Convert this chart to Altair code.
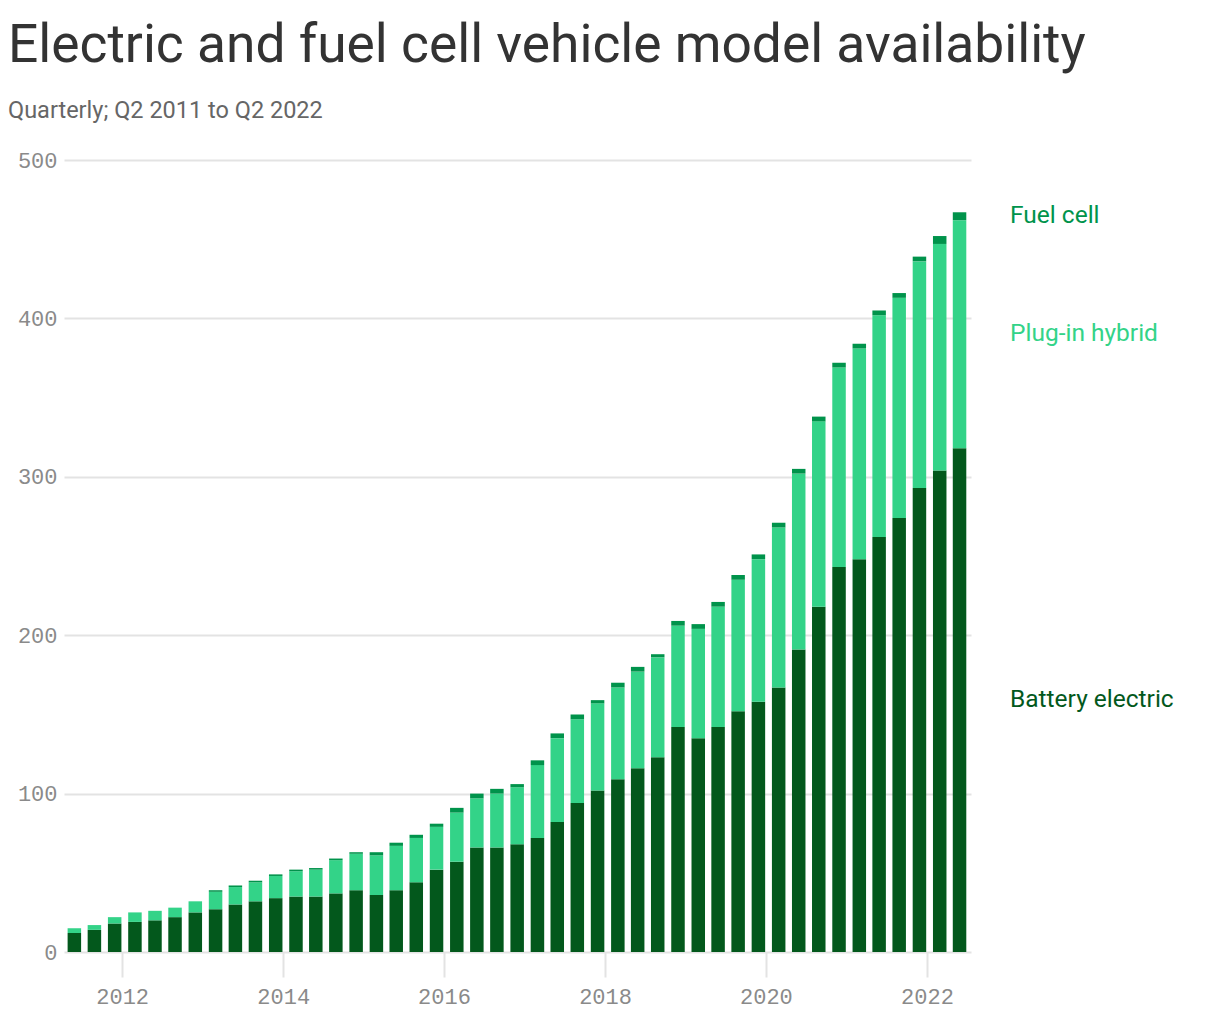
import altair as alt
import pandas as pd

quarters = [
    "Q2 2011", "Q3 2011", "Q4 2011",
    "Q1 2012", "Q2 2012", "Q3 2012", "Q4 2012",
    "Q1 2013", "Q2 2013", "Q3 2013", "Q4 2013",
    "Q1 2014", "Q2 2014", "Q3 2014", "Q4 2014",
    "Q1 2015", "Q2 2015", "Q3 2015", "Q4 2015",
    "Q1 2016", "Q2 2016", "Q3 2016", "Q4 2016",
    "Q1 2017", "Q2 2017", "Q3 2017", "Q4 2017",
    "Q1 2018", "Q2 2018", "Q3 2018", "Q4 2018",
    "Q1 2019", "Q2 2019", "Q3 2019", "Q4 2019",
    "Q1 2020", "Q2 2020", "Q3 2020", "Q4 2020",
    "Q1 2021", "Q2 2021", "Q3 2021", "Q4 2021",
    "Q1 2022", "Q2 2022",
]

battery_electric = [
    12, 14, 18,
    19, 20, 22, 25,
    27, 30, 32, 34,
    35, 35, 37, 39,
    36, 39, 44, 52,
    57, 66, 66, 68,
    72, 82, 94, 102,
    109, 116, 123, 142,
    135, 142, 152, 158,
    167, 191, 218, 243,
    248, 262, 274, 293,
    304, 318,
]

plug_in_hybrid = [
    3, 3, 4,
    6, 6, 6, 7,
    11, 11, 12, 14,
    16, 17, 21, 23,
    25, 28, 28, 27,
    31, 31, 34, 36,
    46, 53, 53, 55,
    58, 61, 63, 64,
    69, 76, 83, 90,
    101, 111, 117, 126,
    133, 140, 139, 143,
    143, 144,
]

fuel_cell = [
    0, 0, 0,
    0, 0, 0, 0,
    1, 1, 1, 1,
    1, 1, 1, 1,
    2, 2, 2, 2,
    3, 3, 3, 2,
    3, 3, 3, 2,
    3, 3, 2, 3,
    3, 3, 3, 3,
    3, 3, 3, 3,
    3, 3, 3, 3,
    5, 5,
]

series = ["Battery electric", "Plug-in hybrid", "Fuel cell"]
colors = ["#03581c", "#33d388", "#00934b"]


def quarter_date(label):
    q, year = label.split()
    month = 3 * (int(q[1]) - 1) + 1
    # bars sit a little after the start of each quarter
    return pd.Timestamp(int(year), month, 1) + pd.Timedelta(days=58)


rows = []
for i, qlab in enumerate(quarters):
    d = quarter_date(qlab)
    for k, (name, vals) in enumerate(zip(series, [battery_electric, plug_in_hybrid, fuel_cell])):
        rows.append({"quarter": qlab, "date": d, "type": name, "value": vals[i], "order": k})
df = pd.DataFrame(rows)

# end labels at the midpoints of the last bar's segments
last = [battery_electric[-1], plug_in_hybrid[-1], fuel_cell[-1]]
mids = []
base = 0
for v in last:
    mids.append(base + v / 2)
    base += v
lab_df = pd.DataFrame({"type": series, "pos": mids})

color_scale = alt.Scale(domain=series, range=colors)
y_scale = alt.Scale(domain=[0, 500])
x_scale = alt.Scale(domain=[alt.DateTime(year=2011, month=4, date=12),
                            alt.DateTime(year=2022, month=7, date=20)],
                    padding=0)

tick_years = [alt.DateTime(year=y, month=1, date=1) for y in range(2012, 2023, 2)]

bars = alt.Chart(df).mark_bar(width=13.5).encode(
    x=alt.X("date:T", scale=x_scale, title=None,
            axis=alt.Axis(values=tick_years, format="%Y", grid=False, domain=False,
                          ticks=True, tickSize=25, tickWidth=2, tickColor="#e3e3e3",
                          labelPadding=9, labelFont="Liberation Mono", labelFontSize=22,
                          labelColor="#8a8a8a")),
    y=alt.Y("value:Q", stack="zero", scale=y_scale, title=None,
            axis=alt.Axis(values=[0, 100, 200, 300, 400, 500], grid=True, gridColor="#e3e3e3",
                          gridWidth=2, domain=False, ticks=False, labelPadding=7,
                          labelFont="Liberation Mono", labelFontSize=22, labelColor="#8a8a8a",
                          minExtent=56, maxExtent=56)),
    color=alt.Color("type:N", scale=color_scale, legend=None),
    order=alt.Order("order:Q"),
)

labels = alt.Chart(lab_df).mark_text(
    align="left", baseline="middle", fontSize=24.5, font="Roboto"
).encode(
    x=alt.value(946),
    y=alt.Y("pos:Q", scale=y_scale),
    text="type:N",
    color=alt.Color("type:N", scale=color_scale, legend=None),
)

chart = (bars + labels).properties(
    width=907,
    height=792,
    padding={"left": 0, "top": 11, "right": 10, "bottom": 10},
    title=alt.TitleParams(
        text="Electric and fuel cell vehicle model availability",
        subtitle="Quarterly; Q2 2011 to Q2 2022",
        anchor="start",
        frame="group",
        dx=-56,
        font="Roboto",
        fontSize=53.3,
        fontWeight="normal",
        color="#333333",
        subtitleFont="Roboto",
        subtitleFontSize=23.5,
        subtitleColor="#666666",
        subtitlePadding=25,
        offset=26,
    ),
).configure_view(stroke=None)

chart.save("out.html", embed_options={"renderer": "svg", "actions": False})
